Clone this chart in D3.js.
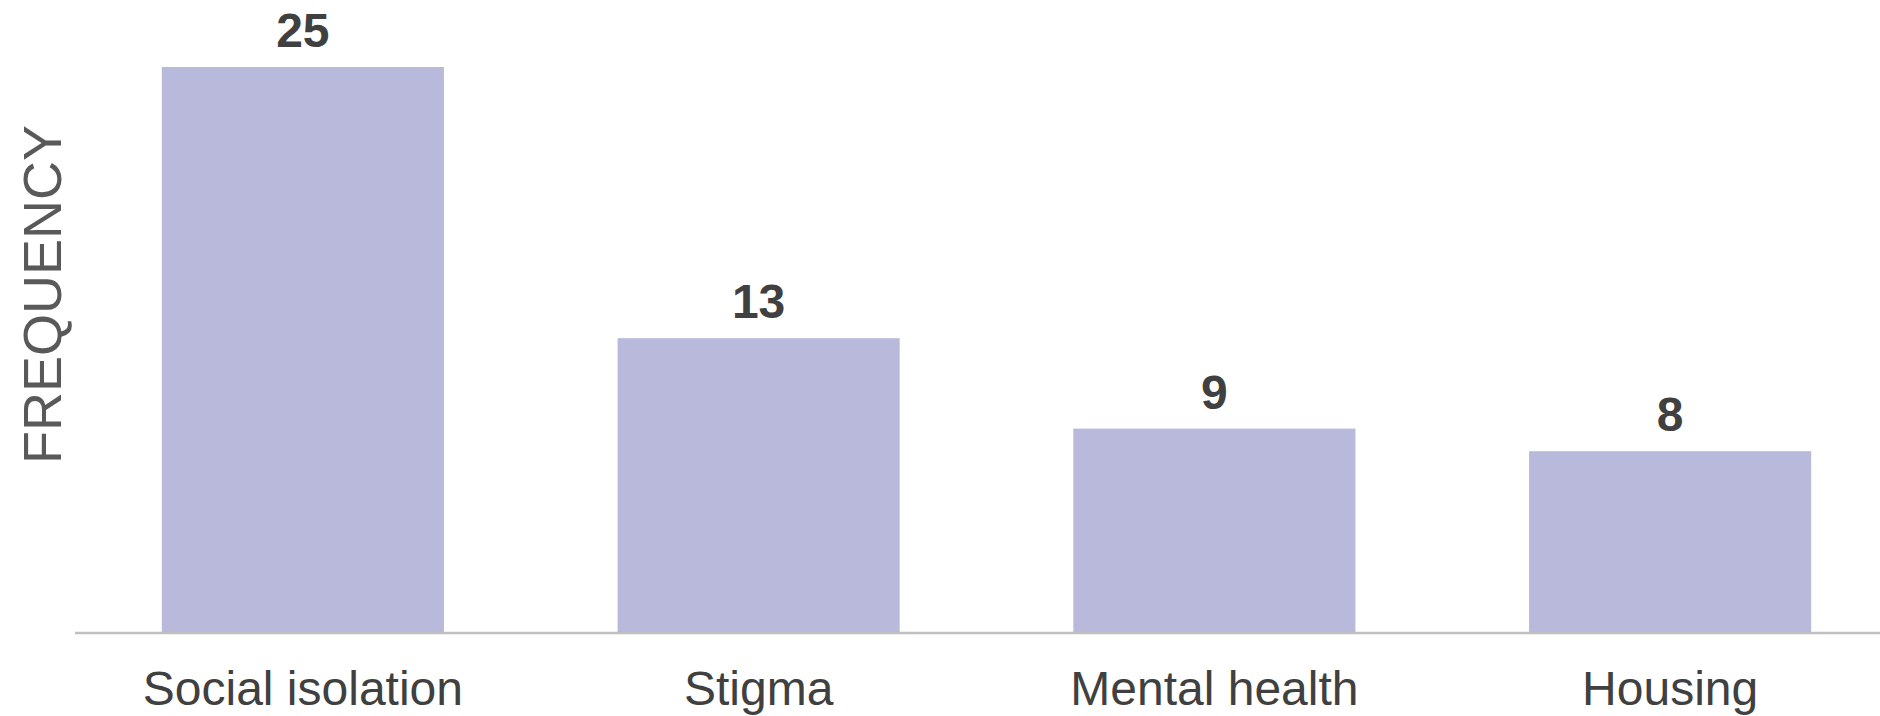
<!DOCTYPE html>
<html>
<head>
<meta charset="utf-8">
<script src="https://cdn.jsdelivr.net/npm/d3@7"></script>
<style>
  html, body { margin: 0; padding: 0; background: #fff; }
  svg { display: block; }
</style>
</head>
<body>
<main></main>
<script>
const categories = ["Social isolation", "Stigma", "Mental health", "Housing"];
const values = [25, 13, 9, 8];

const w = 1880;
const h = 716;
const baseY = 632;

const svg = d3.select("main")
  .append("svg")
  .attr("width", w)
  .attr("height", h);

// scales
const xScale = d3.scaleBand()
  .domain(categories)
  .range([75, 1898])
  .paddingInner(0.381)
  .paddingOuter(0.1905);
const yScale = d3.scaleLinear()
  .domain([0, 25])
  .range([baseY, 67]);

// bars
svg.selectAll("rect.bar")
  .data(values)
  .enter()
  .append("rect")
  .attr("class", "bar")
  .attr("x", (d, i) => xScale(categories[i]))
  .attr("y", d => yScale(d))
  .attr("width", xScale.bandwidth())
  .attr("height", d => yScale(0) - yScale(d))
  .attr("fill", "#b9b9db");

// x axis
const xAxis = d3.axisBottom(xScale).tickSize(0).tickPadding(38);
const gx = svg.append("g")
  .attr("transform", `translate(0,${baseY + 1})`)
  .call(xAxis);
gx.select(".domain")
  .attr("d", `M75,0H${w}`)
  .attr("stroke", "#bfbfbf")
  .attr("stroke-width", 2.5);
gx.selectAll("text")
  .attr("font-family", "Arial, 'Liberation Sans', sans-serif")
  .attr("font-size", 48)
  .attr("fill", "#404040")
  .attr("dy", "0.71em");

// value labels
svg.selectAll("text.val")
  .data(values)
  .enter()
  .append("text")
  .attr("class", "val")
  .attr("x", (d, i) => xScale(categories[i]) + xScale.bandwidth() / 2)
  .attr("y", d => yScale(d) - 20)
  .attr("text-anchor", "middle")
  .attr("font-family", "Arial, 'Liberation Sans', sans-serif")
  .attr("font-weight", "bold")
  .attr("font-size", 48)
  .attr("fill", "#404040")
  .text(d => d);

// y axis title
svg.append("text")
  .attr("transform", "translate(61,294.5) rotate(-90)")
  .attr("text-anchor", "middle")
  .attr("font-family", "Arial, 'Liberation Sans', sans-serif")
  .attr("font-size", 54)
  .attr("fill", "#595959")
  .text("FREQUENCY");
</script>
</body>
</html>
